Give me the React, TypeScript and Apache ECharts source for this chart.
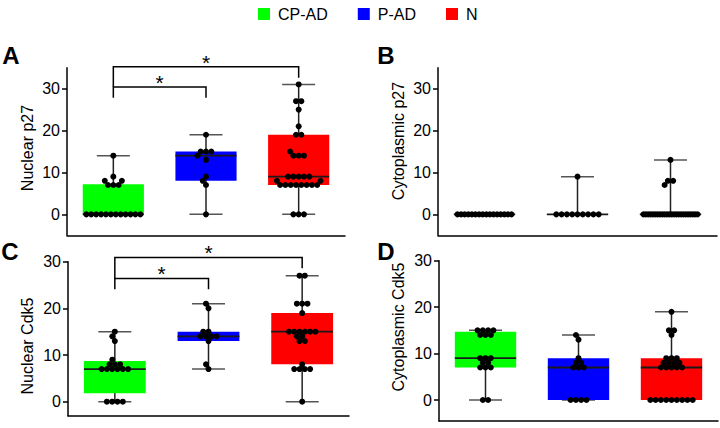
import React, { useEffect, useRef } from "react";
import * as echarts from "echarts";

// ---------- data ----------
const groups = ["CP-AD", "P-AD", "N"];
const groupColors = ["#00ff00", "#0000ff", "#ff0000"];
const yTicks = [0, 10, 20, 30];

// Panel A: Nuclear p27
const nucP27CPAD = [0, 0, 0, 0, 0, 0, 0, 0, 0, 0, 0, 0, 7, 7, 7, 8, 8, 9, 14];
const nucP27PAD = [0, 7, 8, 9, 13, 14, 15, 15, 15, 19];
const nucP27N = [0, 0, 0, 7, 7, 7, 7, 7, 7, 7, 7, 8, 8, 9, 9, 9, 9, 9, 14, 14, 14, 15, 19, 19, 21, 25, 27, 27, 31];
// box stats: [min, q1, median, q3, max]
const nucP27Box = [[0, 0, 0, 7.2, 14], [0, 8, 14, 15, 19], [0, 7, 9, 19, 31]];

// Panel B: Cytoplasmic p27
const cytP27CPAD = [0, 0, 0, 0, 0, 0, 0, 0, 0, 0, 0, 0, 0, 0, 0, 0];
const cytP27PAD = [0, 0, 0, 0, 0, 0, 0, 0, 0, 9];
const cytP27N = [0, 0, 0, 0, 0, 0, 0, 0, 0, 0, 0, 0, 0, 0, 0, 0, 0, 0, 0, 0, 0, 0, 0, 0, 7, 8, 8, 13];
const cytP27Box = [[0, 0, 0, 0, 0], [0, 0, 0, 0, 9], [0, 0, 0, 0, 13]];

// Panel C: Nuclear Cdk5
const nucCdk5CPAD = [0, 0, 0, 0, 7, 7, 7, 7, 7, 7, 8, 8, 8, 9, 13, 14, 15];
const nucCdk5PAD = [7, 8, 13, 14, 14, 14, 14, 15, 15, 20, 21];
const nucCdk5N = [0, 7, 7, 7, 7, 8, 13, 13, 14, 14, 15, 15, 15, 15, 15, 15, 19, 21, 21, 21, 27, 27];
const nucCdk5Box = [[0, 1.8, 7, 8.7, 15], [7, 13, 14, 15, 21], [0, 8, 15, 19, 27]];

// Panel D: Cytoplasmic Cdk5
const cytCdk5CPAD = [0, 0, 7, 7, 7, 8, 8, 9, 9, 9, 14, 14, 14, 15, 15, 15, 15];
const cytCdk5PAD = [0, 0, 0, 0, 7, 7, 7, 8, 8, 9, 13, 14];
const cytCdk5N = [0, 0, 0, 0, 0, 0, 0, 0, 0, 7, 7, 7, 7, 7, 8, 8, 8, 8, 9, 9, 9, 14, 15, 15, 19];
const cytCdk5Box = [[0, 7, 9, 14.7, 15], [0, 0, 7, 9, 14], [0, 0, 7, 9, 19]];

// significance brackets: [fromCat, toCat, topValue, leftLegBottom, rightLegBottom]
const bracketsA = [[0, 1, 30.4, 27.8, 27.8], [0, 2, 35.2, 30.4, 32.6]];
const bracketsC = [[0, 1, 26.4, 24.1, 24.1], [0, 2, 30.9, 26.4, 28.6]];
const bracketStars = ["*", "*"];

// ---------- layout ----------
const FONT = "'Liberation Sans', Arial, Helvetica, sans-serif";
const panels = [
  { letter: "A", name: "Nuclear p27", left: 67, top: 67.7, width: 278, height: 167.6, min: -5, max: 35,
    nameX: 27, nameY: 148, letterX: 11, letterY: 55,
    values: [nucP27CPAD, nucP27PAD, nucP27N], box: nucP27Box, brackets: bracketsA },
  { letter: "B", name: "Cytoplasmic p27", left: 438, top: 67.7, width: 279, height: 167.6, min: -5, max: 35,
    nameX: 398, nameY: 141, letterX: 386, letterY: 55.5,
    values: [cytP27CPAD, cytP27PAD, cytP27N], box: cytP27Box, brackets: null },
  { letter: "C", name: "Nuclear Cdk5", left: 68, top: 261.7, width: 281, height: 154, min: -3, max: 30,
    nameX: 27, nameY: 346, letterX: 10, letterY: 251.5,
    values: [nucCdk5CPAD, nucCdk5PAD, nucCdk5N], box: nucCdk5Box, brackets: bracketsC },
  { letter: "D", name: "Cytoplasmic Cdk5", left: 439, top: 260.7, width: 279, height: 160.2, min: -4.5, max: 30,
    nameX: 398, nameY: 327, letterX: 386, letterY: 251,
    values: [cytCdk5CPAD, cytCdk5PAD, cytCdk5N], box: cytCdk5Box, brackets: null },
];

const DOT_D = 5.3; // collision distance between dot centres (px)
const MAX_SPAN = 54; // max centre span of one row (px)
const DOT_R = 3;

// beeswarm horizontal offsets (px) for one group
function swarm(values: number[], ppu: number): number[] {
  const byVal = new Map<number, number[]>();
  values.forEach((v, i) => {
    if (!byVal.has(v)) byVal.set(v, []);
    byVal.get(v)!.push(i);
  });
  const order = Array.from(byVal.entries()).sort((a, b) => b[1].length - a[1].length || a[0] - b[0]);
  const placed: { x: number; y: number }[] = [];
  const out = new Array(values.length).fill(0);
  const ok = (x: number, y: number) =>
    placed.every((p) => Math.hypot(p.x - x, p.y - y) >= DOT_D - 0.05);
  for (const [v, idx] of order) {
    const n = idx.length;
    const y = v * ppu;
    const sp = n > 1 ? Math.min(DOT_D, MAX_SPAN / (n - 1)) : 0;
    const row = idx.map((_, k) => (k - (n - 1) / 2) * sp);
    if (row.every((x) => ok(x, y))) {
      row.forEach((x, k) => {
        out[idx[k]] = x;
      });
      row.forEach((x) => placed.push({ x, y }));
      continue;
    }
    for (const i of idx) {
      const cands = [0];
      for (const p of placed) {
        const dy = Math.abs(p.y - y);
        if (dy < DOT_D) {
          const h = Math.sqrt(DOT_D * DOT_D - dy * dy);
          cands.push(p.x - h, p.x + h);
        }
      }
      const valid = cands.filter((x) => ok(x, y)).sort((a, b) => Math.abs(a) - Math.abs(b) || a - b);
      const x = valid.length ? valid[0] : 0;
      out[i] = x;
      placed.push({ x, y });
    }
  }
  return out;
}

function buildOption() {
  const grid: any[] = [];
  const xAxis: any[] = [];
  const yAxis: any[] = [];
  const series: any[] = [];
  const graphic: any[] = [];
  const axisLineStyle = { color: "#000", width: 1.5 };

  panels.forEach((pn, pi) => {
    grid.push({ left: pn.left, top: pn.top, width: pn.width, height: pn.height, containLabel: false });
    xAxis.push({
      type: "category", gridIndex: pi, data: groups, boundaryGap: true,
      axisLine: { show: true, onZero: false, lineStyle: axisLineStyle },
      axisTick: { show: false }, axisLabel: { show: false }, splitLine: { show: false },
    });
    yAxis.push({
      type: "value", gridIndex: pi, min: pn.min, max: pn.max,
      axisLine: { show: true, lineStyle: axisLineStyle },
      axisTick: { show: true, length: 5, customValues: yTicks, lineStyle: axisLineStyle },
      axisLabel: { customValues: yTicks, fontSize: 16, color: "#000", margin: 7, fontFamily: FONT },
      splitLine: { show: false },
    });
    const ppu = pn.height / (pn.max - pn.min);

    // boxes
    groups.forEach((g, gi) => {
      series.push({
        type: "custom", name: g, xAxisIndex: pi, yAxisIndex: pi, clip: false,
        itemStyle: { color: groupColors[gi] },
        encode: { x: 0, y: [1, 2, 3, 4, 5] },
        data: [[gi, ...pn.box[gi]]],
        renderItem: (params: any, api: any) => {
          const cat = api.value(0);
          const xc = api.coord([cat, 0])[0];
          const bw = api.size([1, 0])[0] * 0.66;
          const yy = (k: number) => api.coord([cat, api.value(k)])[1];
          const yMin = yy(1), yQ1 = yy(2), yMed = yy(3), yQ3 = yy(4), yMax = yy(5);
          const cap = 33;
          const color = api.visual("color");
          return {
            type: "group",
            children: [
              { type: "line", shape: { x1: xc, y1: yMin, x2: xc, y2: yMax }, style: { stroke: "#222", lineWidth: 1.5 } },
              { type: "line", shape: { x1: xc - cap / 2, y1: yMin, x2: xc + cap / 2, y2: yMin }, style: { stroke: "#555", lineWidth: 1.5 } },
              { type: "line", shape: { x1: xc - cap / 2, y1: yMax, x2: xc + cap / 2, y2: yMax }, style: { stroke: "#555", lineWidth: 1.5 } },
              { type: "rect", shape: { x: xc - bw / 2, y: yQ3, width: bw, height: Math.max(0, yQ1 - yQ3) }, style: { fill: color } },
              { type: "line", shape: { x1: xc - bw / 2, y1: yMed, x2: xc + bw / 2, y2: yMed }, style: { stroke: "#1a1a1a", lineWidth: 1.8 } },
            ],
          };
        },
      });
    });

    // dots
    const dotData: number[][] = [];
    pn.values.forEach((vals, gi) => {
      const dx = swarm(vals, ppu);
      vals.forEach((v, i) => dotData.push([gi, v, dx[i]]));
    });
    series.push({
      type: "custom", name: "dots " + pn.letter, xAxisIndex: pi, yAxisIndex: pi, clip: false,
      encode: { x: 0, y: 1 },
      data: dotData,
      renderItem: (params: any, api: any) => {
        const p = api.coord([api.value(0), api.value(1)]);
        return { type: "circle", shape: { cx: p[0] + api.value(2), cy: p[1], r: DOT_R }, style: { fill: "#000" } };
      },
    });

    // significance brackets
    if (pn.brackets) {
      series.push({
        type: "custom", name: "sig " + pn.letter, xAxisIndex: pi, yAxisIndex: pi, clip: false,
        encode: { x: [0, 1], y: [2, 3, 4] },
        data: pn.brackets,
        renderItem: (params: any, api: any) => {
          const x1 = api.coord([api.value(0), 0])[0];
          const x2 = api.coord([api.value(1), 0])[0];
          const yT = api.coord([0, api.value(2)])[1];
          const yL = api.coord([0, api.value(3)])[1];
          const yR = api.coord([0, api.value(4)])[1];
          return {
            type: "group",
            children: [
              { type: "polyline", shape: { points: [[x1, yL], [x1, yT], [x2, yT], [x2, yR]] }, style: { stroke: "#000", lineWidth: 1.5, fill: "none" } },
              { type: "text", x: (x1 + x2) / 2, y: yT - 4.6, style: { text: bracketStars[params.dataIndex], fontSize: 21, fontFamily: FONT, fill: "#000", align: "center", verticalAlign: "middle" } },
            ],
          };
        },
      });
    }

    graphic.push({
      type: "text", x: pn.letterX, y: pn.letterY,
      style: { text: pn.letter, fontSize: 24, fontWeight: "bold", fontFamily: FONT, fill: "#000", align: "center", verticalAlign: "middle" },
    });
    graphic.push({
      type: "text", x: pn.nameX, y: pn.nameY, rotation: Math.PI / 2,
      style: { text: pn.name, fontSize: 16, fontFamily: FONT, fill: "#000", align: "center", verticalAlign: "middle" },
    });
  });

  return {
    animation: false,
    backgroundColor: "#fff",
    legend: {
      data: groups, left: 253, top: 1, icon: "rect", itemWidth: 12, itemHeight: 12, itemGap: 30,
      selectedMode: false,
      textStyle: { fontSize: 16, color: "#000", fontFamily: FONT, padding: [0, 0, 0, 3] },
    },
    grid, xAxis, yAxis, series, graphic,
  };
}

export default function App() {
  const ref = useRef<HTMLDivElement>(null);
  useEffect(() => {
    document.body.style.margin = "0";
    const chart = echarts.init(ref.current!, undefined, { renderer: "svg" });
    chart.setOption(buildOption() as any);
    return () => chart.dispose();
  }, []);
  return <div ref={ref} style={{ width: 720, height: 428, position: "absolute", left: 0, top: 0 }} />;
}
